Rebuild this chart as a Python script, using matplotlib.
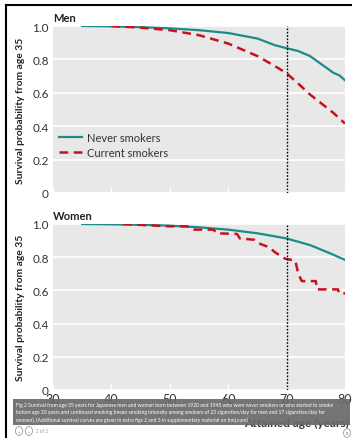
import matplotlib
matplotlib.use("Agg")
import matplotlib.pyplot as plt
from matplotlib.patches import Rectangle, Circle
from matplotlib.lines import Line2D

plt.rcParams['font.family'] = ['Lato', 'DejaVu Sans']

# survival curves
men_never_age = [35, 40, 45, 50, 55, 60, 65, 68, 70, 72, 74, 76, 78, 79, 80]
men_never = [1.0, 0.998, 0.993, 0.986, 0.975, 0.958, 0.925, 0.885, 0.867, 0.85, 0.82, 0.77, 0.72, 0.705, 0.675]
men_cur_age = [40, 45, 50, 55, 60, 65, 68, 70, 72, 74, 76, 78, 80]
men_cur = [1.0, 0.99, 0.975, 0.945, 0.895, 0.82, 0.76, 0.717, 0.655, 0.59, 0.535, 0.48, 0.416]

women_never_age = [35, 40, 45, 50, 55, 60, 65, 70, 74, 77, 80]
women_never = [1.0, 0.998, 0.995, 0.99, 0.98, 0.966, 0.944, 0.913, 0.873, 0.83, 0.784]
women_cur_age = [42, 50, 53, 54, 57.5, 58, 61.5, 62, 64.5, 65.5, 67, 68, 69.7, 71.5, 72.0, 72.6, 75.0, 75.2, 78.8, 79.0, 80]
women_cur = [1.0, 0.986, 0.986, 0.966, 0.966, 0.944, 0.94, 0.913, 0.905, 0.88, 0.86, 0.83, 0.792, 0.778, 0.70, 0.656, 0.656, 0.606, 0.606, 0.582, 0.582]

yticks = [0, 0.2, 0.4, 0.6, 0.8, 1.0]
ytick_labels = ['0', '0.2', '0.4', '0.6', '0.8', '1.0']
xticks = [30, 40, 50, 60, 70, 80]

teal = '#1b8c8a'
red = '#c4121f'
bg = '#e8e8e8'

caption = ("Fig 2 Survival from age 35 years for Japanese men and women born between 1920 and 1945 who were never smokers or who started to smoke\n"
           "before age 20 years and continued smoking (mean smoking intensity among smokers of 23 cigarettes/day for men and 17 cigarettes/day for\n"
           "women). (Additional survival curves are given in extra figs 2 and 3 in supplementary material on bmj.com)")

W, H = 352, 439
fig = plt.figure(figsize=(W / 100, H / 100), dpi=100)

def box(x0, y0, x1, y1):
    return [x0 / W, 1 - y1 / H, (x1 - x0) / W, (y1 - y0) / H]

ax1 = fig.add_axes(box(53, 27, 345, 194))
ax2 = fig.add_axes(box(53, 225, 345, 391))

panels = [(ax1, 'Men', men_never_age, men_never, men_cur_age, men_cur),
          (ax2, 'Women', women_never_age, women_never, women_cur_age, women_cur)]

for ax, title, na, nv, ca, cv in panels:
    ax.set_facecolor(bg)
    for s in ax.spines.values():
        s.set_visible(False)
    ax.set_xlim(30, 80)
    ax.set_ylim(0, 1.0)
    ax.set_yticks(yticks)
    ax.set_yticklabels(ytick_labels)
    ax.set_xticks(xticks)
    ax.grid(axis='y', color='white', linewidth=1.2)
    ax.set_axisbelow(True)
    ax.tick_params(axis='y', length=0, pad=3, labelsize=8.5, labelcolor='#333333')
    ax.tick_params(axis='x', direction='in', length=4, color='white', width=1,
                   labelsize=9, labelcolor='#333333', pad=2)
    ax.plot(na, nv, color=teal, lw=1.6, label='Never smokers', zorder=3)
    ax.plot(ca, cv, color=red, lw=1.8, ls=(0, (3.5, 2.2)), label='Current smokers', zorder=3)
    ax.axvline(70, color='black', lw=1, ls=(0, (1.2, 1.2)), zorder=4)
    ax.set_ylabel('Survival probability from age 35', fontsize=7.4, fontweight='bold',
                  color='#222222', labelpad=5)
    ax.text(0, 1.02, title, transform=ax.transAxes, fontsize=8, fontweight='bold',
            color='#222222', va='bottom', ha='left')

ax1.set_xticklabels([])
ax1.legend(loc='center left', bbox_to_anchor=(0.0, 0.29), frameon=False,
           fontsize=8, handlelength=2.1, handletextpad=0.45, labelspacing=0.35,
           borderaxespad=0.15, labelcolor='#333333')
ax2.set_xlabel('Attained age (years)', fontsize=8.6, fontweight='bold', color='#333333')
ax2.xaxis.set_label_coords(1.015, -0.165)
ax2.xaxis.label.set_ha('right')

# caption overlay
fig.patches.append(Rectangle((13 / W, 1 - 426 / H), 337 / W, 26 / H, transform=fig.transFigure,
                             facecolor='#6a6a6a', alpha=0.93, edgecolor='none', zorder=10))
fig.text(16 / W, 1 - 413 / H, caption, fontsize=3.65, color='white', va='center', ha='left',
         linespacing=1.4, zorder=11)

# viewer controls
for cx in (19, 29):
    fig.patches.append(Circle((cx / W, 1 - 432 / H), 3.5 / W, transform=fig.transFigure,
                              facecolor='white', edgecolor='#999999', lw=0.6, zorder=10))
fig.text(19 / W, 1 - 432 / H, '<', fontsize=3, color='#666666', ha='center', va='center', zorder=11)
fig.text(29 / W, 1 - 432 / H, '>', fontsize=3, color='#666666', ha='center', va='center', zorder=11)
fig.text(36 / W, 1 - 432 / H, '2 of 2', fontsize=3.3, color='#999999', ha='left', va='center')
fig.patches.append(Circle((347 / W, 1 - 434 / H), 3.5 / W, transform=fig.transFigure,
                          facecolor='white', edgecolor='#999999', lw=0.6, zorder=10))
fig.text(347 / W, 1 - 434 / H, 'x', fontsize=3.5, color='#666666', ha='center', va='center', zorder=11)

# frame edges from the screenshot
fig.lines.append(Line2D([5.5 / W, 1], [1 - 6 / H, 1 - 6 / H], transform=fig.transFigure, color='black', lw=1.5))
fig.lines.append(Line2D([5.5 / W, 5.5 / W], [0, 1 - 6 / H], transform=fig.transFigure, color='black', lw=1.5))

fig.savefig('out.png', dpi=100)
